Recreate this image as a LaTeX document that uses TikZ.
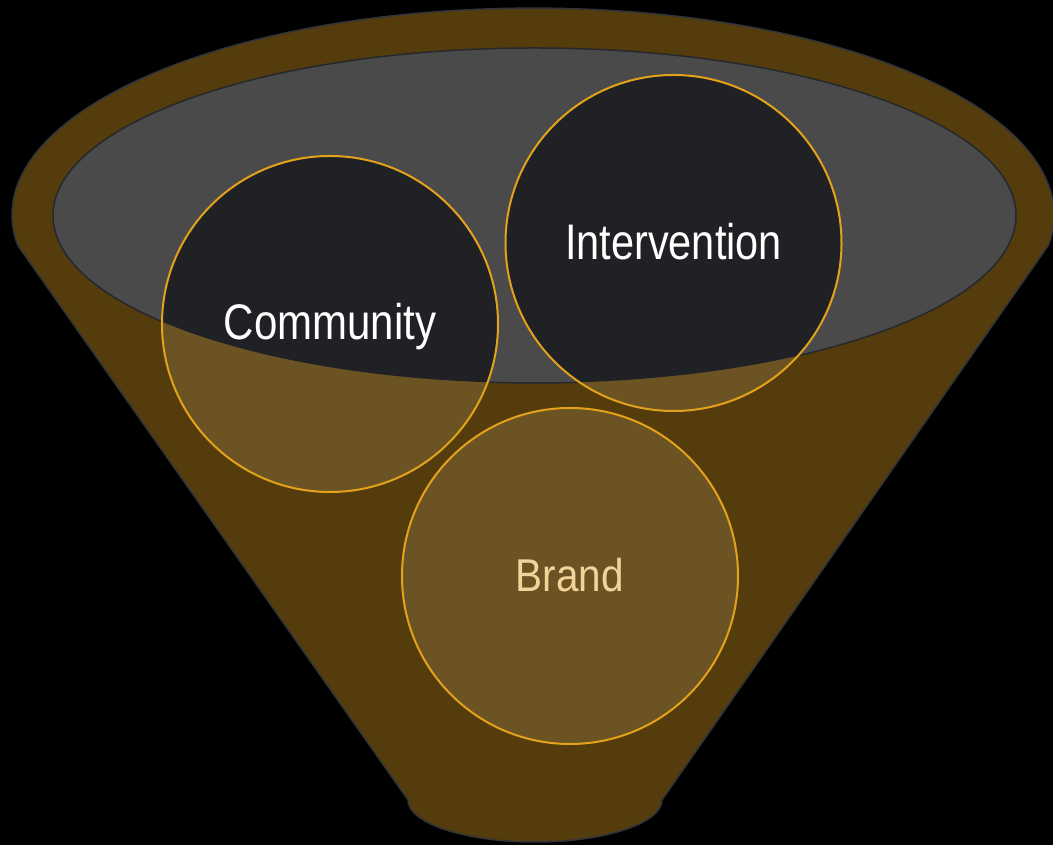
\documentclass[tikz,border=0pt]{standalone}
\usepackage{fontspec}
\setmainfont{Liberation Sans}
\definecolor{funnelfill}{HTML}{553C0D}
\definecolor{funnelline}{HTML}{30343A}
\definecolor{rimfill}{HTML}{4A4A4A}
\definecolor{rimline}{HTML}{25282C}
\definecolor{tanfill}{HTML}{6B5323}
\definecolor{darkfill}{HTML}{1F2124}
\definecolor{ringline}{HTML}{E3A21A}
\definecolor{brandtext}{HTML}{F2D49B}
\tikzset{
  ball/.style={circle, minimum size=336pt, inner sep=0pt},
  ringstroke/.style={draw=ringline, line width=2pt},
  label/.style={anchor=base, inner sep=0pt, text=white, font=\fontsize{50}{50}\selectfont},
}
\begin{document}
\begin{tikzpicture}[x=1pt,y=1pt]
\fill[black] (0,0) rectangle (1053,845);
\useasboundingbox (0,0) rectangle (1053,845);
% funnel body
\draw[fill=funnelfill, draw=funnelline, line width=1.5pt]
  (17.5,600) arc[start angle=188.3, end angle=-8.3, x radius=521, y radius=207]
  -- (662,45) arc[start angle=0, end angle=-180, x radius=127, y radius=42]
  -- cycle;
% rim ellipse
\coordinate (rimc) at (534.5,629.5);
\draw[fill=rimfill, draw=rimline, line width=1.5pt] (rimc) ellipse[x radius=481.5, y radius=167.5];
% circles
\node[ball] (community) at (330,521) {};
\node[ball] (intervention) at (673.5,602) {};
\node[ball] (brand) at (570,269) {};
\foreach \n in {community,intervention,brand}
  \fill[tanfill] (\n.center) circle[radius=168];
\begin{scope}
  \clip (rimc) ellipse[x radius=481.5, y radius=167.5];
  \foreach \n in {community,intervention}
    \fill[darkfill] (\n.center) circle[radius=168];
\end{scope}
\foreach \n in {community,intervention,brand}
  \draw[ringstroke] (\n.center) circle[radius=168];
% labels
\node[label] (tcommunity) at ([yshift=-16pt]community.center) {\scalebox{0.84}[1]{Community}};
\node[label] (tintervention) at ([yshift=-17pt]intervention.center) {\scalebox{0.83}[1]{Intervention}};
\node[label, text=brandtext, font=\fontsize{46}{46}\selectfont] (tbrand) at ([yshift=-16pt]brand.center) {\scalebox{0.88}[1]{Brand}};
\end{tikzpicture}
\end{document}
